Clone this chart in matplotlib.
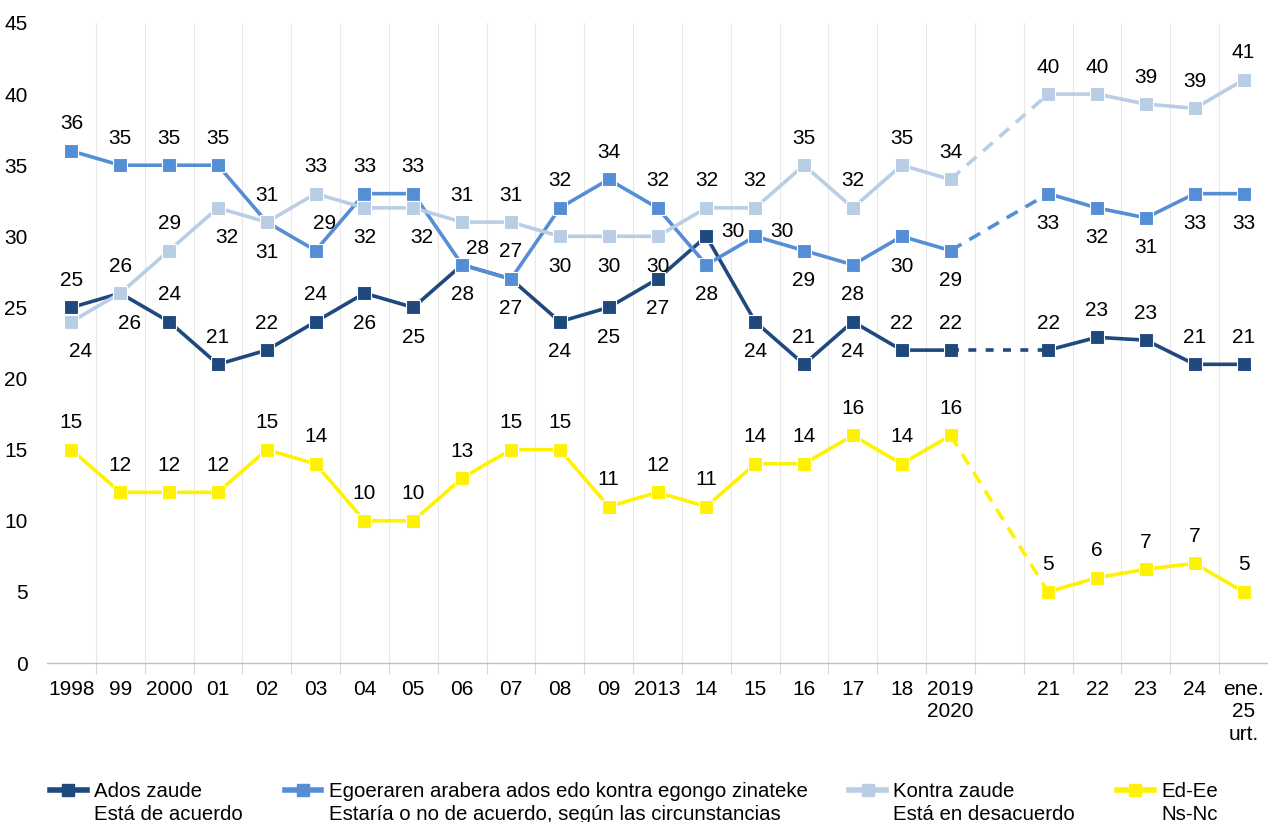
import matplotlib
matplotlib.use('Agg')
import matplotlib.pyplot as plt
import numpy as np

plt.rcParams['font.family'] = ['Liberation Sans', 'DejaVu Sans']

# categories (slot 19 is an empty gap between 2019/2020 and 21)
years = ['1998', '99', '2000', '01', '02', '03', '04', '05', '06', '07', '08', '09',
         '2013', '14', '15', '16', '17', '18', '2019\n2020', '',
         '21', '22', '23', '24', 'ene.\n25\nurt.']

nan = np.nan
ados = [25, 26, 24, 21, 22, 24, 26, 25, 28, 27, 24, 25, 27, 30, 24, 21, 24, 22, 22, nan,
        22, 22.9, 22.7, 21, 21]
egoera = [36, 35, 35, 35, 31, 29, 33, 33, 28, 27, 32, 34, 32, 28, 30, 29, 28, 30, 29, nan,
          33, 32, 31.3, 33, 33]
kontra = [24, 26, 29, 32, 31, 33, 32, 32, 31, 31, 30, 30, 30, 32, 32, 35, 32, 35, 34, nan,
          40, 40, 39.3, 39, 41]
edee = [15, 12, 12, 12, 15, 14, 10, 10, 13, 15, 15, 11, 12, 11, 14, 14, 16, 14, 16, nan,
        5, 6, 6.6, 7, 5]

labels1 = ['Ados zaude', 'Egoeraren arabera ados edo kontra egongo zinateke',
           'Kontra zaude', 'Ed-Ee']
labels2 = ['Está de acuerdo', 'Estaría o no de acuerdo, según las circunstancias',
           'Está en desacuerdo', 'Ns-Nc']

colors = ['#1F497D', '#558ED5', '#B9CDE5', '#FFF200']
dashes = [(0, (2.2, 2.6)), (0, (3.5, 2.5)), (0, (3.5, 2.5)), (0, (3.5, 2.5))]

# where each value label sits relative to its point
# a above, b below, r right, u above-right, v below-right, d diagonal
place = [
    'aaaaaabbbbbbbrbabaa-aaaaa',
    'aaaaauaadaaaabrbbbb-bbbbb',
    'vvavbabvaabbbaaaaaa-aaaaa',
    'aaaaaaaaaaaaaaaaaaa-aaaaa',
]
offs = {'a': (0, 27), 'b': (0, -30), 'r': (27, 5), 'u': (9, 27), 'v': (9, -30),
        'd': (15, 16)}

series = [ados, egoera, kontra, edee]
fs = 15
W, H = 1268, 822

fig = plt.figure(figsize=(W / 100, H / 100), dpi=100)
ax = fig.add_axes([47 / W, 159 / H, 1221 / W, 640 / H])

x = np.arange(len(years))
for s, c, ds in zip(series, colors, dashes):
    ax.plot(x, s, color=c, lw=2.6, marker='s', ms=10.5, mec='white', mew=0.8,
            solid_joinstyle='miter')
    ax.plot([18, 20], [s[18], s[20]], color=c, lw=2.6, ls=ds)

px = 72.0 / 100
for s, pl in zip(series, place):
    for i, v in enumerate(s):
        if np.isnan(v):
            continue
        dx, dy = offs[pl[i]]
        ax.annotate(str(int(round(v))), (i, v), xytext=(dx * px, dy * px),
                    textcoords='offset points', ha='center', va='center',
                    fontsize=fs, color='#000000')

ax.set_xlim(-0.5, 24.5)
ax.set_ylim(0, 45)
ax.set_yticks(range(0, 46, 5))
ax.set_xticks(x)
ax.set_xticklabels(years, linespacing=1.25)
ax.set_xticks(np.arange(0.5, 24.5, 1), minor=True)
ax.tick_params(axis='x', which='major', length=0, pad=12, labelsize=fs)
ax.tick_params(axis='x', which='minor', length=8, color='#D9D9D9', width=0.8)
ax.tick_params(axis='y', length=0, pad=14, labelsize=fs)
ax.grid(axis='x', which='minor', color='#E8E8E8', lw=0.8)
ax.set_axisbelow(True)
for sp in ['top', 'right', 'left']:
    ax.spines[sp].set_visible(False)
ax.spines['bottom'].set_color('#BFBFBF')
ax.spines['bottom'].set_linewidth(1.0)

# legend: one entry per box, each placed after the widest line of the previous one
fig.canvas.draw()
xpos = 50
for c, l1, l2 in zip(colors, labels1, labels2):
    h, = ax.plot([], [], color=c, lw=4, marker='s', ms=8, mec=c)
    leg = fig.legend([h], [l1], loc='upper left', bbox_to_anchor=(xpos / W, 1 - 782 / H),
                     frameon=False, fontsize=14.7, handlelength=1.8,
                     handletextpad=0.35, borderaxespad=0, borderpad=0)
    fig.canvas.draw()
    bb = leg.get_texts()[0].get_window_extent()
    t2 = fig.text(bb.x0 / W, (bb.y0 - 23) / H, l2, fontsize=14.7,
                  va='bottom', ha='left', color='#000000')
    fig.canvas.draw()
    xpos = max(bb.x1, t2.get_window_extent().x1) + 42

fig.savefig('out.png', dpi=100)
